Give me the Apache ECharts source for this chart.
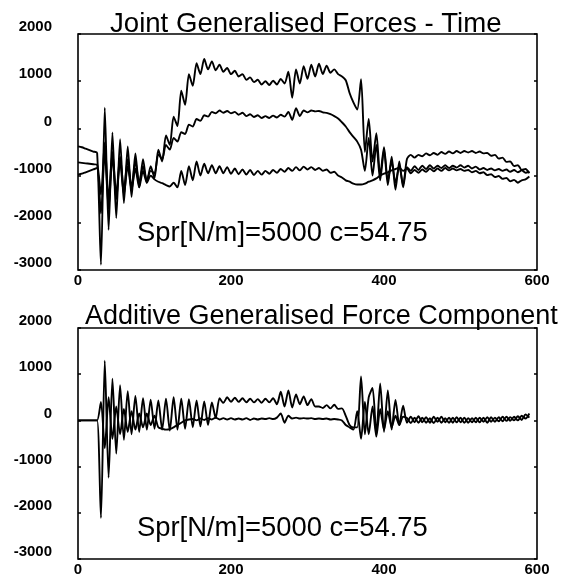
<!DOCTYPE html>
<html>
<head>
<meta charset="utf-8">
<script src="https://cdn.jsdelivr.net/npm/echarts@6/dist/echarts.min.js"></script>
<style>
html,body{margin:0;padding:0;background:#fff;}
#chart{width:573px;height:577px;}
</style>
</head>
<body>
<div id="chart"></div>
<script>
// Time samples (shared x values)
const T = [
  0,5,10,15,20,25,30,35,40,45,
  50,55,60,65,70,75,80,85,90,95,
  100,105,110,115,120,125,130,135,140,145,
  150,155,160,165,170,175,180,185,190,195,
  200,205,210,215,220,225,230,235,240,245,
  250,255,260,265,270,275,280,285,290,295,
  300,305,310,315,320,325,330,335,340,345,
  350,355,360,365,370,375,380,385,390,395,
  400,405,410,415,420,425,430,435,440,445,
  450,455,460,465,470,475,480,485,490,495,
  500,505,510,515,520,525,530,535,540,545,
  550,555,560,565,570,575,580,585,590
];

// Top chart: Joint Generalised Forces - Time
const jointA = [
  -380,-400,-430,-460,-490,-520,-2890,440,-2150,-85,
  -1900,-230,-1580,-380,-1450,-530,-1250,-650,-1150,-800,
  -1050,-450,-700,-150,-350,250,50,800,500,1150,
  900,1380,1150,1470,1250,1420,1230,1350,1200,1280,
  1150,1220,1100,1150,1030,1080,980,1030,930,1000,
  920,1010,930,1050,950,1200,650,1250,950,1320,
  1050,1350,1100,1370,1150,1330,1180,1250,1150,1100,
  1020,750,550,400,1040,-500,200,-700,-100,-1000,
  -400,-1100,-700,-1150,-800,-1200,-650,-560,-620,-560,
  -590,-530,-570,-520,-560,-500,-540,-490,-530,-480,
  -520,-480,-510,-480,-520,-490,-530,-520,-580,-560,
  -640,-620,-710,-700,-800,-780,-880,-860,-950
];
const jointB = [
  -720,-730,-740,-750,-760,-770,-1400,-300,-1500,-500,
  -1400,-600,-1300,-650,-1250,-700,-1150,-800,-1100,-900,
  -950,-550,-650,-350,-450,-200,-280,-80,-120,80,
  40,200,160,280,250,350,320,380,330,370,
  320,350,290,330,260,300,240,280,220,260,
  220,270,230,290,250,350,180,430,260,380,
  340,380,360,370,340,330,300,260,210,130,
  40,-80,-180,-280,-450,-900,-200,-1000,-350,-1100,
  -450,-1200,-600,-1300,-700,-1250,-820,-900,-800,-880,
  -790,-860,-780,-850,-790,-840,-780,-840,-790,-830,
  -780,-830,-790,-850,-810,-870,-840,-880,-850,-890,
  -860,-900,-870,-920,-880,-930,-890,-940,-910
];
const jointC = [
  -980,-960,-930,-900,-870,-840,-1800,-500,-1700,-600,
  -1500,-700,-1400,-800,-1300,-850,-1250,-900,-1150,-1000,
  -1080,-1130,-1160,-1200,-1230,-1150,-1250,-900,-1200,-800,
  -1100,-700,-1000,-750,-950,-780,-950,-800,-950,-820,
  -960,-850,-970,-870,-980,-880,-990,-900,-980,-900,
  -960,-880,-940,-860,-920,-840,-900,-820,-890,-810,
  -870,-820,-880,-840,-900,-870,-940,-920,-1000,-1040,
  -1100,-1130,-1170,-1190,-1190,-1170,-1130,-1100,-1060,-1000,
  -960,-930,-890,-860,-830,-900,-850,-950,-880,-940,
  -870,-920,-850,-910,-850,-900,-840,-890,-850,-890,
  -860,-900,-880,-930,-900,-950,-930,-990,-970,-1030,
  -1010,-1070,-1050,-1120,-1090,-1150,-1100,-1080,-1020
];

// Bottom chart: Additive Generalised Force Component
const addD = [
  0,0,0,0,0,0,-2110,1290,-1240,900,
  -720,760,-420,630,-300,530,-250,480,-200,450,
  -180,430,-200,470,-220,500,-200,470,-180,460,
  -150,430,-130,410,-100,390,50,480,380,500,
  400,490,400,480,390,470,390,460,380,470,
  390,480,350,620,300,650,280,560,350,520,
  330,460,300,300,270,330,260,340,250,260,
  100,-100,-150,-150,950,-300,500,700,-300,800,
  -250,650,-200,440,-100,320,-50,80,-40,90,
  -40,70,-50,80,-30,80,-40,60,-50,70,
  -40,60,-50,50,-40,60,-30,70,-30,60,
  -20,80,-10,70,0,90,10,130,60
];
const addE = [
  0,0,0,0,0,0,400,-600,500,-400,
  300,-300,250,-250,200,-200,150,-150,150,-100,
  100,-150,-180,-200,-190,-150,-100,-50,0,20,
  30,0,40,10,50,20,60,20,50,20,
  50,20,40,20,50,10,40,20,40,30,
  50,30,60,150,-50,100,40,60,40,50,
  40,50,30,40,30,40,20,30,20,0,
  -100,-150,-200,200,-400,400,-300,300,-350,250,
  -200,200,-150,100,-100,80,50,-60,60,-50,
  60,-50,50,-60,60,-50,50,-50,60,-40,
  60,-50,50,-40,60,-40,60,-50,70,-30,
  70,-20,80,-10,80,0,100,40,150
];

// Axis ticks
const xTicks = [0, 200, 400, 600];
const yTicks = [-3000, -2000, -1000, 0, 1000, 2000];

const titles = ['Joint Generalised Forces - Time', 'Additive Generalised Force Component'];
const note = 'Spr[N/m]=5000 c=54.75';

const FONT = "'Liberation Sans', Arial, sans-serif";

function pairs(vals) { return T.map((t, i) => [t, vals[i]]); }

function xAx(gi) {
  return {
    type: 'value', gridIndex: gi, min: xTicks[0], max: xTicks[xTicks.length - 1], interval: 200,
    axisLine: { show: false }, axisTick: { show: false }, splitLine: { show: false },
    axisLabel: { color: '#000', fontSize: 15, fontWeight: 'bold', fontFamily: FONT, margin: 3,
      formatter: v => String(v) }
  };
}
function yAx(gi, pos) {
  return {
    type: 'value', gridIndex: gi, position: pos, min: yTicks[0], max: yTicks[yTicks.length - 1], interval: 1000,
    axisLine: { show: false },
    axisTick: { show: true, inside: true, length: 3, lineStyle: { color: '#000', width: 1.5 } },
    splitLine: { show: false },
    axisLabel: pos === 'left'
      ? { color: '#000', fontSize: 15, fontWeight: 'bold', fontFamily: FONT, margin: 26,
          verticalAlign: 'bottom', lineHeight: 14, formatter: v => String(v) }
      : { show: false }
  };
}
function line(vals, xi, yi) {
  return {
    type: 'line', xAxisIndex: xi, yAxisIndex: yi, data: pairs(vals),
    showSymbol: false, smooth: 0.25, silent: true,
    lineStyle: { color: '#000', width: 1.9 }
  };
}

const chart = echarts.init(document.getElementById('chart'), null, { renderer: 'canvas' });
chart.setOption({
  animation: false,
  backgroundColor: '#fff',
  title: [
    { text: titles[0], left: 110, top: 10, padding: 0, textStyle: { fontSize: 27.6, fontWeight: 'normal', color: '#000', fontFamily: FONT } },
    { text: titles[1], left: 85, top: 303, padding: 0, textStyle: { fontSize: 27, fontWeight: 'normal', color: '#000', fontFamily: FONT } },
    { text: note, left: 137, top: 220, padding: 0, textStyle: { fontSize: 27.4, fontWeight: 'normal', color: '#000', fontFamily: FONT } },
    { text: note, left: 137, top: 515, padding: 0, textStyle: { fontSize: 27.4, fontWeight: 'normal', color: '#000', fontFamily: FONT } }
  ],
  grid: [
    { left: 78, width: 459, top: 34, height: 236, show: true, borderColor: '#000', borderWidth: 1.6, backgroundColor: 'transparent' },
    { left: 78, width: 459, top: 328, height: 237, show: true, borderColor: '#000', borderWidth: 1.6, backgroundColor: 'transparent' }
  ],
  xAxis: [xAx(0), xAx(1)],
  yAxis: [yAx(0, 'left'), yAx(0, 'right'), yAx(1, 'left'), yAx(1, 'right')],
  series: [
    line(jointA, 0, 0), line(jointB, 0, 0), line(jointC, 0, 0),
    line(addD, 1, 2), line(addE, 1, 2)
  ]
});
</script>
</body>
</html>
